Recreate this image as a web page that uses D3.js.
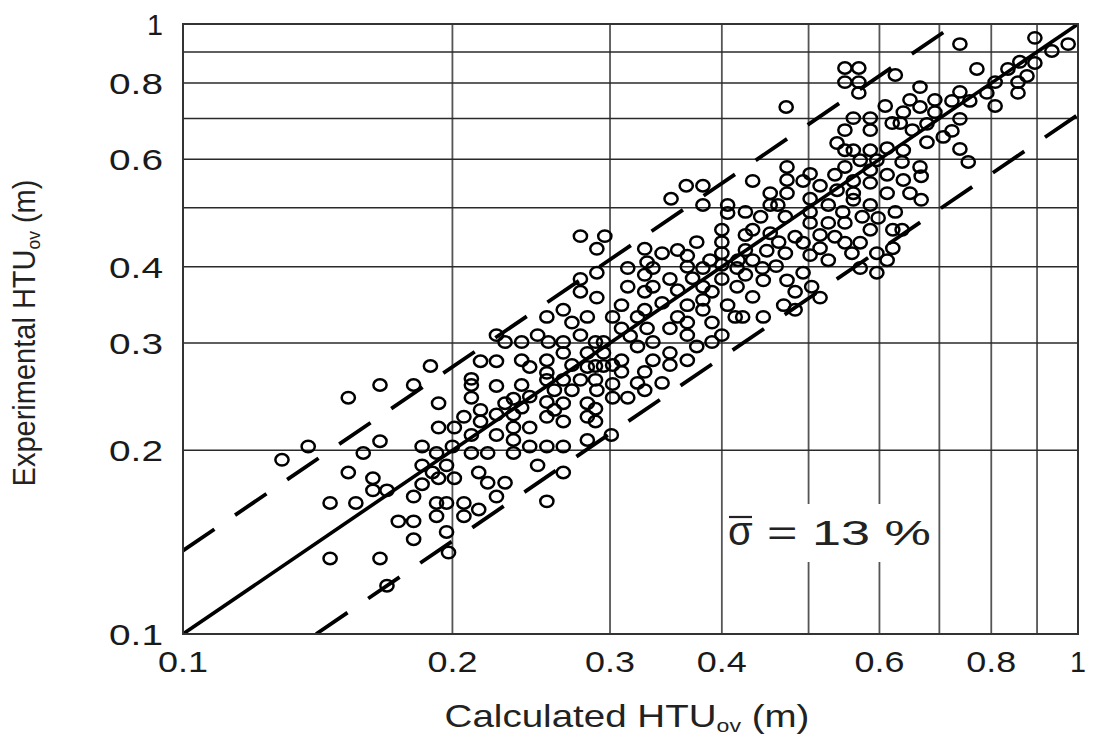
<!DOCTYPE html>
<html><head><meta charset="utf-8">
<script src="https://cdn.jsdelivr.net/npm/d3@7"></script>
<style>body{margin:0;background:#fff}svg{display:block}</style>
</head><body>
<svg id="c" width="1098" height="739"></svg>
<script>
// ---------- data ----------
const xTickValues = [0.1, 0.2, 0.3, 0.4, 0.6, 0.8, 1];
const yTickValues = [0.1, 0.2, 0.3, 0.4, 0.6, 0.8, 1];
const xTickLabels = ["0.1", "0.2", "0.3", "0.4", "0.6", "0.8", "1"];
const yTickLabels = ["0.1", "0.2", "0.3", "0.4", "0.6", "0.8", "1"];
const gridValues = [0.2, 0.3, 0.4, 0.5, 0.6, 0.7, 0.8, 0.9];
const upperFactor = 1.37;   // upper dashed deviation line
const lowerFactor = 0.71;   // lower dashed deviation line
const sigmaText = "= 13 %";
const xTitle = ["Calculated HTU", "ov", " (m)"];
const yTitle = ["Experimental HTU", "ov", " (m)"];

const calculated = [
0.895,0.738,0.975,0.935,0.861,0.895,0.549,0.569,0.771,0.835,
0.625,0.877,0.549,0.569,0.808,0.857,0.666,0.569,0.738,0.791,
0.857,0.692,0.723,0.757,0.649,0.808,0.666,0.609,0.472,0.638,
0.692,0.561,0.586,0.738,0.620,0.633,0.678,0.549,0.586,0.653,
0.723,0.707,0.538,0.678,0.549,0.561,0.586,0.612,0.638,0.738,
0.571,0.596,0.636,0.754,0.473,0.549,0.666,0.502,0.535,0.586,
0.612,0.668,0.433,0.473,0.493,0.515,0.561,0.586,0.638,0.365,
0.381,0.453,0.473,0.538,0.561,0.612,0.649,0.351,0.502,0.668,
0.381,0.406,0.406,0.425,0.442,0.453,0.462,0.471,0.526,0.561,
0.586,0.502,0.546,0.574,0.598,0.625,0.502,0.526,0.549,0.296,
0.278,0.400,0.453,0.586,0.621,0.636,0.433,0.425,0.375,0.400,
0.463,0.483,0.515,0.535,0.493,0.549,0.571,0.515,0.621,0.290,
0.328,0.343,0.357,0.366,0.400,0.425,0.449,0.471,0.502,0.559,
0.596,0.526,0.612,0.330,0.388,0.417,0.433,0.314,0.335,0.366,
0.381,0.400,0.416,0.444,0.460,0.493,0.571,0.596,0.290,0.328,
0.350,0.371,0.400,0.425,0.445,0.473,0.278,0.314,0.335,0.357,
0.381,0.416,0.504,0.483,0.278,0.328,0.390,0.433,0.290,0.515,
0.343,0.366,0.381,0.406,0.469,0.309,0.328,0.483,0.266,0.302,
0.322,0.357,0.381,0.414,0.422,0.445,0.255,0.283,0.272,0.309,
0.330,0.350,0.366,0.390,0.316,0.366,0.400,0.278,0.249,0.224,
0.229,0.239,0.256,0.266,0.289,0.295,0.322,0.335,0.375,0.390,
0.266,0.283,0.295,0.350,0.309,0.335,0.366,0.328,0.309,0.350,
0.189,0.215,0.224,0.239,0.255,0.244,0.272,0.283,0.289,0.295,
0.302,0.255,0.210,0.210,0.224,0.239,0.255,0.266,0.278,0.289,
0.302,0.322,0.343,0.260,0.272,0.290,0.328,0.210,0.193,0.229,
0.234,0.244,0.255,0.266,0.283,0.302,0.314,0.166,0.181,0.153,
0.215,0.239,0.260,0.289,0.206,0.215,0.224,0.234,0.255,0.266,
0.283,0.289,0.193,0.201,0.234,0.244,0.210,0.224,0.301,0.234,
0.283,0.185,0.200,0.192,0.210,0.219,0.234,0.244,0.255,0.266,
0.185,0.197,0.166,0.138,0.159,0.129,0.190,0.193,0.201,0.214,
0.153,0.163,0.163,0.169,0.185,0.181,0.146,0.156,0.192,0.197,
0.206,0.192,0.206,0.214,0.174,0.181,0.197,0.181,0.198,0.146,
0.166,0.169,0.219,0.229,0.224,0.249,0.266,0.255
];
const experimental = [
0.949,0.927,0.927,0.903,0.867,0.863,0.847,0.847,0.844,0.844,
0.825,0.822,0.803,0.803,0.803,0.803,0.788,0.771,0.774,0.771,
0.771,0.751,0.748,0.748,0.751,0.734,0.731,0.734,0.731,0.717,
0.717,0.701,0.701,0.699,0.688,0.688,0.686,0.670,0.670,0.670,
0.668,0.653,0.638,0.640,0.621,0.621,0.621,0.626,0.621,0.624,
0.598,0.598,0.594,0.594,0.583,0.583,0.583,0.568,0.566,0.576,
0.566,0.563,0.553,0.555,0.553,0.543,0.553,0.549,0.555,0.543,
0.543,0.528,0.528,0.534,0.528,0.528,0.528,0.517,0.517,0.515,
0.505,0.505,0.490,0.492,0.483,0.505,0.505,0.483,0.505,0.515,
0.505,0.492,0.492,0.483,0.481,0.492,0.472,0.472,0.472,0.449,
0.449,0.460,0.454,0.460,0.460,0.460,0.460,0.451,0.439,0.439,
0.439,0.448,0.451,0.448,0.438,0.438,0.438,0.429,0.429,0.428,
0.428,0.421,0.426,0.417,0.421,0.426,0.425,0.421,0.418,0.421,
0.421,0.410,0.410,0.407,0.410,0.410,0.410,0.398,0.398,0.400,
0.398,0.403,0.398,0.398,0.401,0.391,0.398,0.391,0.391,0.388,
0.382,0.383,0.382,0.388,0.380,0.380,0.382,0.371,0.371,0.366,
0.371,0.371,0.371,0.364,0.364,0.364,0.364,0.357,0.356,0.356,
0.349,0.346,0.353,0.346,0.346,0.346,0.340,0.340,0.340,0.331,
0.331,0.331,0.340,0.331,0.331,0.331,0.331,0.331,0.324,0.317,
0.317,0.317,0.324,0.324,0.308,0.309,0.309,0.309,0.309,0.309,
0.301,0.301,0.301,0.301,0.301,0.301,0.296,0.301,0.296,0.301,
0.289,0.289,0.289,0.289,0.281,0.281,0.281,0.269,0.269,0.276,
0.275,0.280,0.280,0.281,0.281,0.274,0.276,0.274,0.275,0.275,
0.276,0.268,0.262,0.256,0.255,0.256,0.261,0.261,0.261,0.261,
0.257,0.258,0.258,0.251,0.251,0.251,0.251,0.244,0.239,0.239,
0.243,0.245,0.240,0.239,0.239,0.244,0.244,0.256,0.256,0.244,
0.233,0.235,0.233,0.234,0.227,0.223,0.229,0.229,0.227,0.223,
0.227,0.223,0.218,0.218,0.218,0.218,0.212,0.212,0.212,0.208,
0.208,0.203,0.203,0.198,0.198,0.198,0.198,0.203,0.203,0.203,
0.189,0.189,0.207,0.203,0.198,0.193,0.184,0.180,0.180,0.184,
0.184,0.180,0.172,0.172,0.176,0.168,0.164,0.164,0.164,0.164,
0.164,0.156,0.156,0.160,0.153,0.153,0.147,0.143,0.136,0.133,
0.133,0.120,0.177,0.177,0.168,0.189,0.184,0.165
];

// ---------- drawing ----------
const W = 1098, H = 739;
const M = {left: 183, right: 1078, top: 24, bottom: 634};
const x = d3.scaleLog().domain([0.1, 1]).range([M.left, M.right]);
const y = d3.scaleLog().domain([0.1, 1]).range([M.bottom, M.top]);
const svg = d3.select("#c");
svg.append("rect").attr("width", W).attr("height", H).attr("fill", "#fff");

svg.append("defs").append("clipPath").attr("id", "plot")
  .append("rect").attr("x", M.left).attr("y", M.top)
  .attr("width", M.right - M.left).attr("height", M.bottom - M.top);

// grid
const grid = svg.append("g");
grid.selectAll("line.v").data(gridValues).join("line").attr("class", "v")
  .attr("x1", d => x(d)).attr("x2", d => x(d))
  .attr("y1", M.top).attr("y2", M.bottom)
  .attr("stroke", "#555").attr("stroke-width", 1.8);
grid.selectAll("line.h").data(gridValues).join("line").attr("class", "h")
  .attr("y1", d => y(d)).attr("y2", d => y(d))
  .attr("x1", M.left).attr("x2", M.right)
  .attr("stroke", "#2a2a2a").attr("stroke-width", 1.5);

// sigma label box (covers grid)
const sigBox = svg.append("rect").attr("fill", "#fff");

// reference lines
const lines = svg.append("g").attr("clip-path", "url(#plot)");
lines.append("line")
  .attr("x1", x(0.1)).attr("y1", y(0.1)).attr("x2", x(1)).attr("y2", y(1))
  .attr("stroke", "#000").attr("stroke-width", 3.6);
lines.append("line")
  .attr("x1", x(0.1)).attr("y1", y(0.1 * upperFactor))
  .attr("x2", x(1 / upperFactor)).attr("y2", y(1))
  .attr("stroke", "#000").attr("stroke-width", 3.8).attr("stroke-dasharray", "38,25");
lines.append("line")
  .attr("x1", x(0.1 / lowerFactor)).attr("y1", y(0.1))
  .attr("x2", x(1)).attr("y2", y(lowerFactor))
  .attr("stroke", "#000").attr("stroke-width", 3.8).attr("stroke-dasharray", "38,25");

// points
const pts = calculated.map((c, i) => ({c, e: experimental[i]}));
svg.append("g").selectAll("ellipse").data(pts).join("ellipse")
  .attr("cx", d => x(d.c)).attr("cy", d => y(d.e))
  .attr("rx", 6.6).attr("ry", 5.7)
  .attr("fill", "none").attr("stroke", "#000").attr("stroke-width", 2.5);

// frame
svg.append("rect").attr("x", M.left).attr("y", M.top)
  .attr("width", M.right - M.left).attr("height", M.bottom - M.top)
  .attr("fill", "none").attr("stroke", "#333").attr("stroke-width", 2);

// helper: stretch a text group horizontally to a target width
function fitted(parent, tx, ty, rot, target, build, anchor) {
  const g = parent.append("g");
  const t = g.append("text").attr("font-family", "Liberation Sans, Arial, sans-serif")
    .attr("text-anchor", anchor || "middle");
  build(t);
  const w = t.node().getBBox().width;
  const s = target / w;
  g.attr("transform", `translate(${tx},${ty}) rotate(${rot}) scale(${s},1)`);
  return g;
}

// tick labels
const tickFont = 30;
yTickValues.forEach((v, i) => {
  fitted(svg, 163, y(v) + 11, 0, yTickLabels[i].length === 1 ? 16 : 54,
    t => t.attr("font-size", tickFont).attr("fill", "#1a1a1a").text(yTickLabels[i]), "end");
});
xTickValues.forEach((v, i) => {
  fitted(svg, x(v), 672, 0, xTickLabels[i].length === 1 ? 16 : 50,
    t => t.attr("font-size", tickFont).attr("fill", "#1a1a1a").text(xTickLabels[i]), "middle");
});

// axis titles
function titleBuild(parts, size) {
  return t => {
    t.attr("font-size", size).attr("fill", "#222");
    t.append("tspan").text(parts[0]);
    t.append("tspan").attr("font-size", size * 0.6).attr("dy", 5).text(parts[1]);
    t.append("tspan").attr("dy", -5).text(parts[2]);
  };
}
fitted(svg, 627, 727, 0, 365, titleBuild(xTitle, 32), "middle");
fitted(svg, 35, 333, -90, 307, titleBuild(yTitle, 31), "middle");

// sigma label
const sg = svg.append("g");
const sig = sg.append("text").attr("x", 728).attr("y", 545)
  .attr("font-family", "Liberation Sans, Arial, sans-serif").attr("font-size", 40).attr("fill", "#222")
  .text("σ");
const sb = sig.node().getBBox();
sg.append("line").attr("x1", sb.x + 1).attr("x2", sb.x + sb.width - 1)
  .attr("y1", 517).attr("y2", 517).attr("stroke", "#222").attr("stroke-width", 2.2);
fitted(sg, 767, 545, 0, 164,
  t => t.attr("font-size", 36).attr("fill", "#222").text(sigmaText), "start");
sigBox.attr("x", 724).attr("y", 504).attr("width", 212).attr("height", 58);
</script>
</body></html>
